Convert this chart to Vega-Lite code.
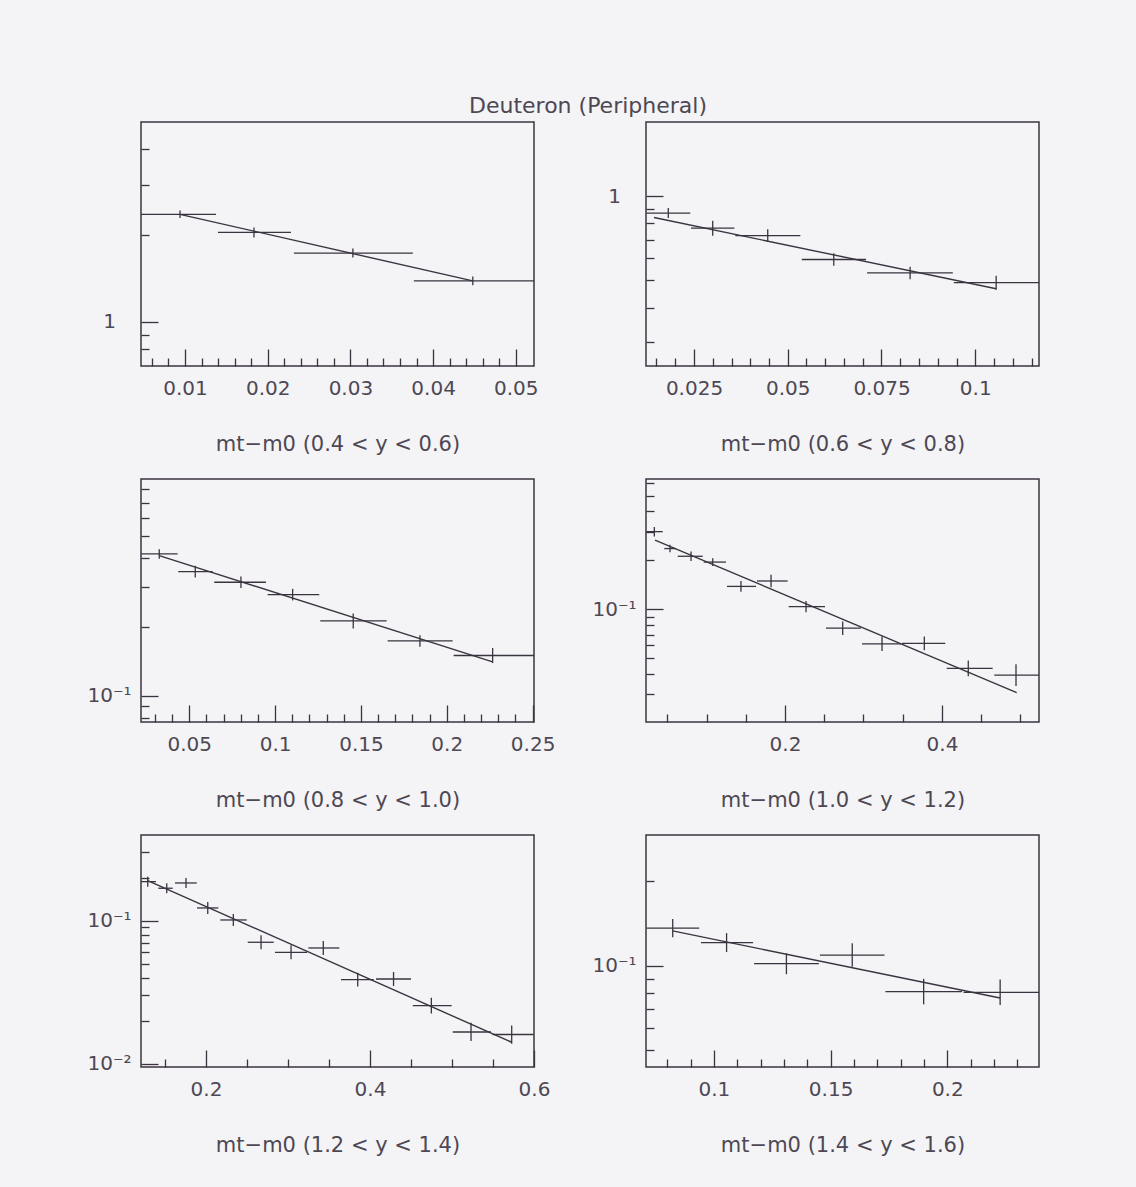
{
  "$schema": "https://vega.github.io/schema/vega-lite/v6.json",
  "padding": {"left": 86, "top": 95, "right": 98, "bottom": 40},
  "background": "#f4f3f6",
  "title": {"text": "Deuteron (Peripheral)", "fontSize": 22, "font": "DejaVu Sans", "fontWeight": "normal", "color": "#4d4853", "anchor": "middle", "offset": 3, "dx": 25},
  "datasets": {
    "points": [
      {"panel": "0.4 < y < 0.6", "x": 0.0094, "xlo": 0.0047, "xhi": 0.01375, "v": 2.364, "vlo": 2.294, "vhi": 2.437},
      {"panel": "0.4 < y < 0.6", "x": 0.01834, "xlo": 0.01399, "xhi": 0.02281, "v": 2.044, "vlo": 1.964, "vhi": 2.127},
      {"panel": "0.4 < y < 0.6", "x": 0.0303, "xlo": 0.02317, "xhi": 0.03755, "v": 1.733, "vlo": 1.672, "vhi": 1.796},
      {"panel": "0.4 < y < 0.6", "x": 0.0448, "xlo": 0.03767, "xhi": 0.0522, "v": 1.386, "vlo": 1.337, "vhi": 1.437},
      {"panel": "0.6 < y < 0.8", "x": 0.01814, "xlo": 0.0123, "xhi": 0.02401, "v": 0.871, "vlo": 0.836, "vhi": 0.908},
      {"panel": "0.6 < y < 0.8", "x": 0.02999, "xlo": 0.0242, "xhi": 0.03575, "v": 0.769, "vlo": 0.723, "vhi": 0.818},
      {"panel": "0.6 < y < 0.8", "x": 0.04466, "xlo": 0.03602, "xhi": 0.05336, "v": 0.723, "vlo": 0.686, "vhi": 0.762},
      {"panel": "0.6 < y < 0.8", "x": 0.06227, "xlo": 0.05374, "xhi": 0.07089, "v": 0.594, "vlo": 0.564, "vhi": 0.626},
      {"panel": "0.6 < y < 0.8", "x": 0.08263, "xlo": 0.07116, "xhi": 0.09402, "v": 0.532, "vlo": 0.505, "vhi": 0.56},
      {"panel": "0.6 < y < 0.8", "x": 0.10558, "xlo": 0.09429, "xhi": 0.117, "v": 0.491, "vlo": 0.463, "vhi": 0.52},
      {"panel": "0.8 < y < 1.0", "x": 0.03253, "xlo": 0.0221, "xhi": 0.04324, "v": 0.417, "vlo": 0.3975, "vhi": 0.4374},
      {"panel": "0.8 < y < 1.0", "x": 0.05349, "xlo": 0.04359, "xhi": 0.06363, "v": 0.349, "vlo": 0.3292, "vhi": 0.3699},
      {"panel": "0.8 < y < 1.0", "x": 0.08011, "xlo": 0.06456, "xhi": 0.09467, "v": 0.3134, "vlo": 0.2957, "vhi": 0.3322},
      {"panel": "0.8 < y < 1.0", "x": 0.11022, "xlo": 0.09566, "xhi": 0.12571, "v": 0.2767, "vlo": 0.261, "vhi": 0.2933},
      {"panel": "0.8 < y < 1.0", "x": 0.14552, "xlo": 0.1263, "xhi": 0.16497, "v": 0.2123, "vlo": 0.1968, "vhi": 0.2291},
      {"panel": "0.8 < y < 1.0", "x": 0.18436, "xlo": 0.16555, "xhi": 0.20341, "v": 0.1735, "vlo": 0.1637, "vhi": 0.1839},
      {"panel": "0.8 < y < 1.0", "x": 0.2267, "xlo": 0.204, "xhi": 0.2508, "v": 0.1499, "vlo": 0.1389, "vhi": 0.1617},
      {"panel": "1.0 < y < 1.2", "x": 0.0335, "xlo": 0.0231, "xhi": 0.0442, "v": 0.3004, "vlo": 0.2808, "vhi": 0.3213},
      {"panel": "1.0 < y < 1.2", "x": 0.0535, "xlo": 0.0462, "xhi": 0.0611, "v": 0.2364, "vlo": 0.2242, "vhi": 0.2493},
      {"panel": "1.0 < y < 1.2", "x": 0.0803, "xlo": 0.0633, "xhi": 0.0952, "v": 0.212, "vlo": 0.1982, "vhi": 0.2268},
      {"panel": "1.0 < y < 1.2", "x": 0.1079, "xlo": 0.0964, "xhi": 0.1248, "v": 0.1953, "vlo": 0.1849, "vhi": 0.2062},
      {"panel": "1.0 < y < 1.2", "x": 0.1439, "xlo": 0.1261, "xhi": 0.1631, "v": 0.1384, "vlo": 0.1283, "vhi": 0.1493},
      {"panel": "1.0 < y < 1.2", "x": 0.1822, "xlo": 0.1643, "xhi": 0.2034, "v": 0.1494, "vlo": 0.1367, "vhi": 0.1633},
      {"panel": "1.0 < y < 1.2", "x": 0.2268, "xlo": 0.2047, "xhi": 0.251, "v": 0.1039, "vlo": 0.096, "vhi": 0.1124},
      {"panel": "1.0 < y < 1.2", "x": 0.2735, "xlo": 0.2522, "xhi": 0.2968, "v": 0.0766, "vlo": 0.0696, "vhi": 0.0843},
      {"panel": "1.0 < y < 1.2", "x": 0.3236, "xlo": 0.2981, "xhi": 0.3478, "v": 0.0614, "vlo": 0.0554, "vhi": 0.0681},
      {"panel": "1.0 < y < 1.2", "x": 0.3775, "xlo": 0.349, "xhi": 0.4042, "v": 0.0618, "vlo": 0.0561, "vhi": 0.068},
      {"panel": "1.0 < y < 1.2", "x": 0.4335, "xlo": 0.406, "xhi": 0.4646, "v": 0.04335, "vlo": 0.0388, "vhi": 0.0484},
      {"panel": "1.0 < y < 1.2", "x": 0.4943, "xlo": 0.4666, "xhi": 0.5236, "v": 0.03937, "vlo": 0.0338, "vhi": 0.0459},
      {"panel": "1.2 < y < 1.4", "x": 0.1289, "xlo": 0.1209, "xhi": 0.139, "v": 0.1874, "vlo": 0.1729, "vhi": 0.2031},
      {"panel": "1.2 < y < 1.4", "x": 0.1521, "xlo": 0.1418, "xhi": 0.1594, "v": 0.1685, "vlo": 0.1554, "vhi": 0.1827},
      {"panel": "1.2 < y < 1.4", "x": 0.1756, "xlo": 0.1622, "xhi": 0.1887, "v": 0.1834, "vlo": 0.1692, "vhi": 0.1988},
      {"panel": "1.2 < y < 1.4", "x": 0.2021, "xlo": 0.189, "xhi": 0.215, "v": 0.1227, "vlo": 0.1114, "vhi": 0.1352},
      {"panel": "1.2 < y < 1.4", "x": 0.2333, "xlo": 0.2174, "xhi": 0.2496, "v": 0.1011, "vlo": 0.0918, "vhi": 0.1114},
      {"panel": "1.2 < y < 1.4", "x": 0.2671, "xlo": 0.2509, "xhi": 0.2826, "v": 0.0706, "vlo": 0.0631, "vhi": 0.079},
      {"panel": "1.2 < y < 1.4", "x": 0.3037, "xlo": 0.2841, "xhi": 0.3232, "v": 0.0601, "vlo": 0.0537, "vhi": 0.0673},
      {"panel": "1.2 < y < 1.4", "x": 0.343, "xlo": 0.3248, "xhi": 0.3626, "v": 0.0644, "vlo": 0.0575, "vhi": 0.0721},
      {"panel": "1.2 < y < 1.4", "x": 0.385, "xlo": 0.3646, "xhi": 0.4045, "v": 0.0387, "vlo": 0.0346, "vhi": 0.0433},
      {"panel": "1.2 < y < 1.4", "x": 0.4287, "xlo": 0.4073, "xhi": 0.45, "v": 0.0391, "vlo": 0.0349, "vhi": 0.0438},
      {"panel": "1.2 < y < 1.4", "x": 0.4748, "xlo": 0.4521, "xhi": 0.4996, "v": 0.02544, "vlo": 0.0224, "vhi": 0.0289},
      {"panel": "1.2 < y < 1.4", "x": 0.5232, "xlo": 0.5009, "xhi": 0.5476, "v": 0.01666, "vlo": 0.0144, "vhi": 0.0193},
      {"panel": "1.2 < y < 1.4", "x": 0.5728, "xlo": 0.5496, "xhi": 0.5995, "v": 0.016, "vlo": 0.0138, "vhi": 0.0185},
      {"panel": "1.4 < y < 1.6", "x": 0.08235, "xlo": 0.0711, "xhi": 0.09372, "v": 0.1362, "vlo": 0.1263, "vhi": 0.1469},
      {"panel": "1.4 < y < 1.6", "x": 0.10543, "xlo": 0.09444, "xhi": 0.1168, "v": 0.121, "vlo": 0.1119, "vhi": 0.1308},
      {"panel": "1.4 < y < 1.6", "x": 0.13107, "xlo": 0.11722, "xhi": 0.145, "v": 0.1017, "vlo": 0.0933, "vhi": 0.1108},
      {"panel": "1.4 < y < 1.6", "x": 0.15927, "xlo": 0.14543, "xhi": 0.17308, "v": 0.1092, "vlo": 0.0992, "vhi": 0.1202},
      {"panel": "1.4 < y < 1.6", "x": 0.18987, "xlo": 0.1735, "xhi": 0.20628, "v": 0.0809, "vlo": 0.0728, "vhi": 0.0898},
      {"panel": "1.4 < y < 1.6", "x": 0.22265, "xlo": 0.20697, "xhi": 0.2393, "v": 0.0804, "vlo": 0.0724, "vhi": 0.0893}
    ],
    "fits": [
      {"panel": "0.4 < y < 0.6", "x": 0.0094, "v": 2.364},
      {"panel": "0.4 < y < 0.6", "x": 0.0448, "v": 1.386},
      {"panel": "0.6 < y < 0.8", "x": 0.01433, "v": 0.84},
      {"panel": "0.6 < y < 0.8", "x": 0.10558, "v": 0.467},
      {"panel": "0.8 < y < 1.0", "x": 0.03253, "v": 0.41},
      {"panel": "0.8 < y < 1.0", "x": 0.2267, "v": 0.1405},
      {"panel": "1.0 < y < 1.2", "x": 0.0344, "v": 0.2667},
      {"panel": "1.0 < y < 1.2", "x": 0.4952, "v": 0.03073},
      {"panel": "1.2 < y < 1.4", "x": 0.1289, "v": 0.1905},
      {"panel": "1.2 < y < 1.4", "x": 0.5728, "v": 0.01412},
      {"panel": "1.4 < y < 1.6", "x": 0.08235, "v": 0.1332},
      {"panel": "1.4 < y < 1.6", "x": 0.22265, "v": 0.0767}
    ]
  },
  "bounds": "flush",
  "columns": 2,
  "spacing": {"row": 113, "column": 112},
  "concat": [
    {
      "width": 393, "height": 244,
      "encoding": {
        "x": {"field": "x", "type": "quantitative",
          "scale": {"type": "linear", "domain": [0.00468, 0.0522], "nice": false, "zero": false},
          "axis": {"title": "mt−m0 (0.4 < y < 0.6)", "values": [0.006, 0.008, 0.01, 0.012, 0.014, 0.016, 0.018, 0.02, 0.022, 0.024, 0.026, 0.028, 0.03, 0.032, 0.034, 0.036, 0.038, 0.04, 0.042, 0.044, 0.046, 0.048, 0.05], "format": "~g",
            "labelExpr": "indexof([0.01, 0.02, 0.03, 0.04, 0.05], datum.value) >= 0 ? datum.label : ''",
            "tickSize": {"condition": {"test": "indexof([0.01, 0.02, 0.03, 0.04, 0.05], datum.value) >= 0", "value": -17}, "value": -8}}},
        "y": {"field": "v", "type": "quantitative",
          "scale": {"type": "log", "domain": [0.7, 4.96], "nice": false},
          "axis": {"title": null, "values": [0.8, 0.9, 1, 2, 3, 4],
            "labelExpr": "datum.value === 1 ? '1' : datum.value === 0.1 ? '10⁻¹' : datum.value === 0.01 ? '10⁻²' : ''",
            "tickSize": {"condition": {"test": "datum.value === 1 || datum.value === 0.1 || datum.value === 0.01", "value": -17}, "value": -8}}}
      },
      "layer": [
        {"data": {"name": "points"}, "transform": [{"filter": "datum.panel === '0.4 < y < 0.6'"}], "mark": {"type": "rule", "clip": true},
          "encoding": {"x": {"field": "xlo", "type": "quantitative", "scale": {"type": "linear", "domain": [0.00468, 0.0522], "nice": false, "zero": false}}, "x2": {"field": "xhi"}}},
        {"data": {"name": "points"}, "transform": [{"filter": "datum.panel === '0.4 < y < 0.6'"}], "mark": {"type": "rule", "clip": true},
          "encoding": {"y": {"field": "vlo", "type": "quantitative", "scale": {"type": "log", "domain": [0.7, 4.96], "nice": false}}, "y2": {"field": "vhi"}}},
        {"data": {"name": "fits"}, "transform": [{"filter": "datum.panel === '0.4 < y < 0.6'"}], "mark": {"type": "line", "clip": true}, "encoding": {}}
      ]
    },
    {
      "width": 393, "height": 244,
      "encoding": {
        "x": {"field": "x", "type": "quantitative",
          "scale": {"type": "linear", "domain": [0.0122, 0.117], "nice": false, "zero": false},
          "axis": {"title": "mt−m0 (0.6 < y < 0.8)", "values": [0.015, 0.02, 0.025, 0.03, 0.035, 0.04, 0.045, 0.05, 0.055, 0.06, 0.065, 0.07, 0.075, 0.08, 0.085, 0.09, 0.095, 0.1, 0.105, 0.11, 0.115], "format": "~g",
            "labelExpr": "indexof([0.025, 0.05, 0.075, 0.1], datum.value) >= 0 ? datum.label : ''",
            "tickSize": {"condition": {"test": "indexof([0.025, 0.05, 0.075, 0.1], datum.value) >= 0", "value": -17}, "value": -8}}},
        "y": {"field": "v", "type": "quantitative",
          "scale": {"type": "log", "domain": [0.247, 1.845], "nice": false},
          "axis": {"title": null, "values": [0.3, 0.4, 0.5, 0.6, 0.7, 0.8, 0.9, 1],
            "labelExpr": "datum.value === 1 ? '1' : datum.value === 0.1 ? '10⁻¹' : datum.value === 0.01 ? '10⁻²' : ''",
            "tickSize": {"condition": {"test": "datum.value === 1 || datum.value === 0.1 || datum.value === 0.01", "value": -17}, "value": -8}}}
      },
      "layer": [
        {"data": {"name": "points"}, "transform": [{"filter": "datum.panel === '0.6 < y < 0.8'"}], "mark": {"type": "rule", "clip": true},
          "encoding": {"x": {"field": "xlo", "type": "quantitative", "scale": {"type": "linear", "domain": [0.0122, 0.117], "nice": false, "zero": false}}, "x2": {"field": "xhi"}}},
        {"data": {"name": "points"}, "transform": [{"filter": "datum.panel === '0.6 < y < 0.8'"}], "mark": {"type": "rule", "clip": true},
          "encoding": {"y": {"field": "vlo", "type": "quantitative", "scale": {"type": "log", "domain": [0.247, 1.845], "nice": false}}, "y2": {"field": "vhi"}}},
        {"data": {"name": "fits"}, "transform": [{"filter": "datum.panel === '0.6 < y < 0.8'"}], "mark": {"type": "line", "clip": true}, "encoding": {}}
      ]
    },
    {
      "width": 393, "height": 243,
      "encoding": {
        "x": {"field": "x", "type": "quantitative",
          "scale": {"type": "linear", "domain": [0.0219, 0.2508], "nice": false, "zero": false},
          "axis": {"title": "mt−m0 (0.8 < y < 1.0)", "values": [0.03, 0.04, 0.05, 0.06, 0.07, 0.08, 0.09, 0.1, 0.11, 0.12, 0.13, 0.14, 0.15, 0.16, 0.17, 0.18, 0.19, 0.2, 0.21, 0.22, 0.23, 0.24, 0.25], "format": "~g",
            "labelExpr": "indexof([0.05, 0.1, 0.15, 0.2, 0.25], datum.value) >= 0 ? datum.label : ''",
            "tickSize": {"condition": {"test": "indexof([0.05, 0.1, 0.15, 0.2, 0.25], datum.value) >= 0", "value": -17}, "value": -8}}},
        "y": {"field": "v", "type": "quantitative",
          "scale": {"type": "log", "domain": [0.0767, 0.887], "nice": false},
          "axis": {"title": null, "values": [0.08, 0.09, 0.1, 0.2, 0.3, 0.4, 0.5, 0.6, 0.7, 0.8],
            "labelExpr": "datum.value === 1 ? '1' : datum.value === 0.1 ? '10⁻¹' : datum.value === 0.01 ? '10⁻²' : ''",
            "tickSize": {"condition": {"test": "datum.value === 1 || datum.value === 0.1 || datum.value === 0.01", "value": -17}, "value": -8}}}
      },
      "layer": [
        {"data": {"name": "points"}, "transform": [{"filter": "datum.panel === '0.8 < y < 1.0'"}], "mark": {"type": "rule", "clip": true},
          "encoding": {"x": {"field": "xlo", "type": "quantitative", "scale": {"type": "linear", "domain": [0.0219, 0.2508], "nice": false, "zero": false}}, "x2": {"field": "xhi"}}},
        {"data": {"name": "points"}, "transform": [{"filter": "datum.panel === '0.8 < y < 1.0'"}], "mark": {"type": "rule", "clip": true},
          "encoding": {"y": {"field": "vlo", "type": "quantitative", "scale": {"type": "log", "domain": [0.0767, 0.887], "nice": false}}, "y2": {"field": "vhi"}}},
        {"data": {"name": "fits"}, "transform": [{"filter": "datum.panel === '0.8 < y < 1.0'"}], "mark": {"type": "line", "clip": true}, "encoding": {}}
      ]
    },
    {
      "width": 393, "height": 243,
      "encoding": {
        "x": {"field": "x", "type": "quantitative",
          "scale": {"type": "linear", "domain": [0.0229, 0.5236], "nice": false, "zero": false},
          "axis": {"title": "mt−m0 (1.0 < y < 1.2)", "values": [0.05, 0.1, 0.15, 0.2, 0.25, 0.3, 0.35, 0.4, 0.45, 0.5], "format": "~g",
            "labelExpr": "indexof([0.2, 0.4], datum.value) >= 0 ? datum.label : ''",
            "tickSize": {"condition": {"test": "indexof([0.2, 0.4], datum.value) >= 0", "value": -17}, "value": -8}}},
        "y": {"field": "v", "type": "quantitative",
          "scale": {"type": "log", "domain": [0.0203, 0.633], "nice": false},
          "axis": {"title": null, "values": [0.03, 0.04, 0.05, 0.06, 0.07, 0.08, 0.09, 0.1, 0.2, 0.3, 0.4, 0.5, 0.6],
            "labelExpr": "datum.value === 1 ? '1' : datum.value === 0.1 ? '10⁻¹' : datum.value === 0.01 ? '10⁻²' : ''",
            "tickSize": {"condition": {"test": "datum.value === 1 || datum.value === 0.1 || datum.value === 0.01", "value": -17}, "value": -8}}}
      },
      "layer": [
        {"data": {"name": "points"}, "transform": [{"filter": "datum.panel === '1.0 < y < 1.2'"}], "mark": {"type": "rule", "clip": true},
          "encoding": {"x": {"field": "xlo", "type": "quantitative", "scale": {"type": "linear", "domain": [0.0229, 0.5236], "nice": false, "zero": false}}, "x2": {"field": "xhi"}}},
        {"data": {"name": "points"}, "transform": [{"filter": "datum.panel === '1.0 < y < 1.2'"}], "mark": {"type": "rule", "clip": true},
          "encoding": {"y": {"field": "vlo", "type": "quantitative", "scale": {"type": "log", "domain": [0.0203, 0.633], "nice": false}}, "y2": {"field": "vhi"}}},
        {"data": {"name": "fits"}, "transform": [{"filter": "datum.panel === '1.0 < y < 1.2'"}], "mark": {"type": "line", "clip": true}, "encoding": {}}
      ]
    },
    {
      "width": 393, "height": 232,
      "encoding": {
        "x": {"field": "x", "type": "quantitative",
          "scale": {"type": "linear", "domain": [0.1207, 0.6], "nice": false, "zero": false},
          "axis": {"title": "mt−m0 (1.2 < y < 1.4)", "values": [0.15, 0.2, 0.25, 0.3, 0.35, 0.4, 0.45, 0.5, 0.55, 0.6], "format": "~g",
            "labelExpr": "indexof([0.2, 0.4, 0.6], datum.value) >= 0 ? datum.label : ''",
            "tickSize": {"condition": {"test": "indexof([0.2, 0.4, 0.6], datum.value) >= 0", "value": -17}, "value": -8}}},
        "y": {"field": "v", "type": "quantitative",
          "scale": {"type": "log", "domain": [0.00948, 0.397], "nice": false},
          "axis": {"title": null, "values": [0.01, 0.02, 0.03, 0.04, 0.05, 0.06, 0.07, 0.08, 0.09, 0.1, 0.2, 0.3],
            "labelExpr": "datum.value === 1 ? '1' : datum.value === 0.1 ? '10⁻¹' : datum.value === 0.01 ? '10⁻²' : ''",
            "tickSize": {"condition": {"test": "datum.value === 1 || datum.value === 0.1 || datum.value === 0.01", "value": -17}, "value": -8}}}
      },
      "layer": [
        {"data": {"name": "points"}, "transform": [{"filter": "datum.panel === '1.2 < y < 1.4'"}], "mark": {"type": "rule", "clip": true},
          "encoding": {"x": {"field": "xlo", "type": "quantitative", "scale": {"type": "linear", "domain": [0.1207, 0.6], "nice": false, "zero": false}}, "x2": {"field": "xhi"}}},
        {"data": {"name": "points"}, "transform": [{"filter": "datum.panel === '1.2 < y < 1.4'"}], "mark": {"type": "rule", "clip": true},
          "encoding": {"y": {"field": "vlo", "type": "quantitative", "scale": {"type": "log", "domain": [0.00948, 0.397], "nice": false}}, "y2": {"field": "vhi"}}},
        {"data": {"name": "fits"}, "transform": [{"filter": "datum.panel === '1.2 < y < 1.4'"}], "mark": {"type": "line", "clip": true}, "encoding": {}}
      ]
    },
    {
      "width": 393, "height": 232,
      "encoding": {
        "x": {"field": "x", "type": "quantitative",
          "scale": {"type": "linear", "domain": [0.0709, 0.2393], "nice": false, "zero": false},
          "axis": {"title": "mt−m0 (1.4 < y < 1.6)", "values": [0.08, 0.09, 0.1, 0.11, 0.12, 0.13, 0.14, 0.15, 0.16, 0.17, 0.18, 0.19, 0.2, 0.21, 0.22, 0.23], "format": "~g",
            "labelExpr": "indexof([0.1, 0.15, 0.2], datum.value) >= 0 ? datum.label : ''",
            "tickSize": {"condition": {"test": "indexof([0.1, 0.15, 0.2], datum.value) >= 0", "value": -17}, "value": -8}}},
        "y": {"field": "v", "type": "quantitative",
          "scale": {"type": "log", "domain": [0.0435, 0.293], "nice": false},
          "axis": {"title": null, "values": [0.05, 0.06, 0.07, 0.08, 0.09, 0.1, 0.2],
            "labelExpr": "datum.value === 1 ? '1' : datum.value === 0.1 ? '10⁻¹' : datum.value === 0.01 ? '10⁻²' : ''",
            "tickSize": {"condition": {"test": "datum.value === 1 || datum.value === 0.1 || datum.value === 0.01", "value": -17}, "value": -8}}}
      },
      "layer": [
        {"data": {"name": "points"}, "transform": [{"filter": "datum.panel === '1.4 < y < 1.6'"}], "mark": {"type": "rule", "clip": true},
          "encoding": {"x": {"field": "xlo", "type": "quantitative", "scale": {"type": "linear", "domain": [0.0709, 0.2393], "nice": false, "zero": false}}, "x2": {"field": "xhi"}}},
        {"data": {"name": "points"}, "transform": [{"filter": "datum.panel === '1.4 < y < 1.6'"}], "mark": {"type": "rule", "clip": true},
          "encoding": {"y": {"field": "vlo", "type": "quantitative", "scale": {"type": "log", "domain": [0.0435, 0.293], "nice": false}}, "y2": {"field": "vhi"}}},
        {"data": {"name": "fits"}, "transform": [{"filter": "datum.panel === '1.4 < y < 1.6'"}], "mark": {"type": "line", "clip": true}, "encoding": {}}
      ]
    }
  ],
  "config": {
    "font": "DejaVu Sans",
    "view": {"stroke": "#3a3440", "strokeWidth": 1.5},
    "rule": {"color": "#3a3440", "strokeWidth": 1.3},
    "line": {"color": "#3a3440", "strokeWidth": 1.4},
    "axis": {"domain": false, "grid": false, "tickColor": "#3a3440", "tickWidth": 1.3,
      "labelFont": "DejaVu Sans", "labelFontSize": 20, "labelColor": "#4d4853",
      "labelOverlap": false, "labelFlush": false, "labelBound": false,
      "titleFont": "DejaVu Sans", "titleFontSize": 21, "titleFontWeight": "normal", "titleColor": "#4d4853"},
    "axisX": {"labelPadding": 29, "titlePadding": 26, "labelAngle": 0},
    "axisY": {"labelPadding": 49, "labelAlign": "center", "labelBaseline": "middle"}
  }
}
